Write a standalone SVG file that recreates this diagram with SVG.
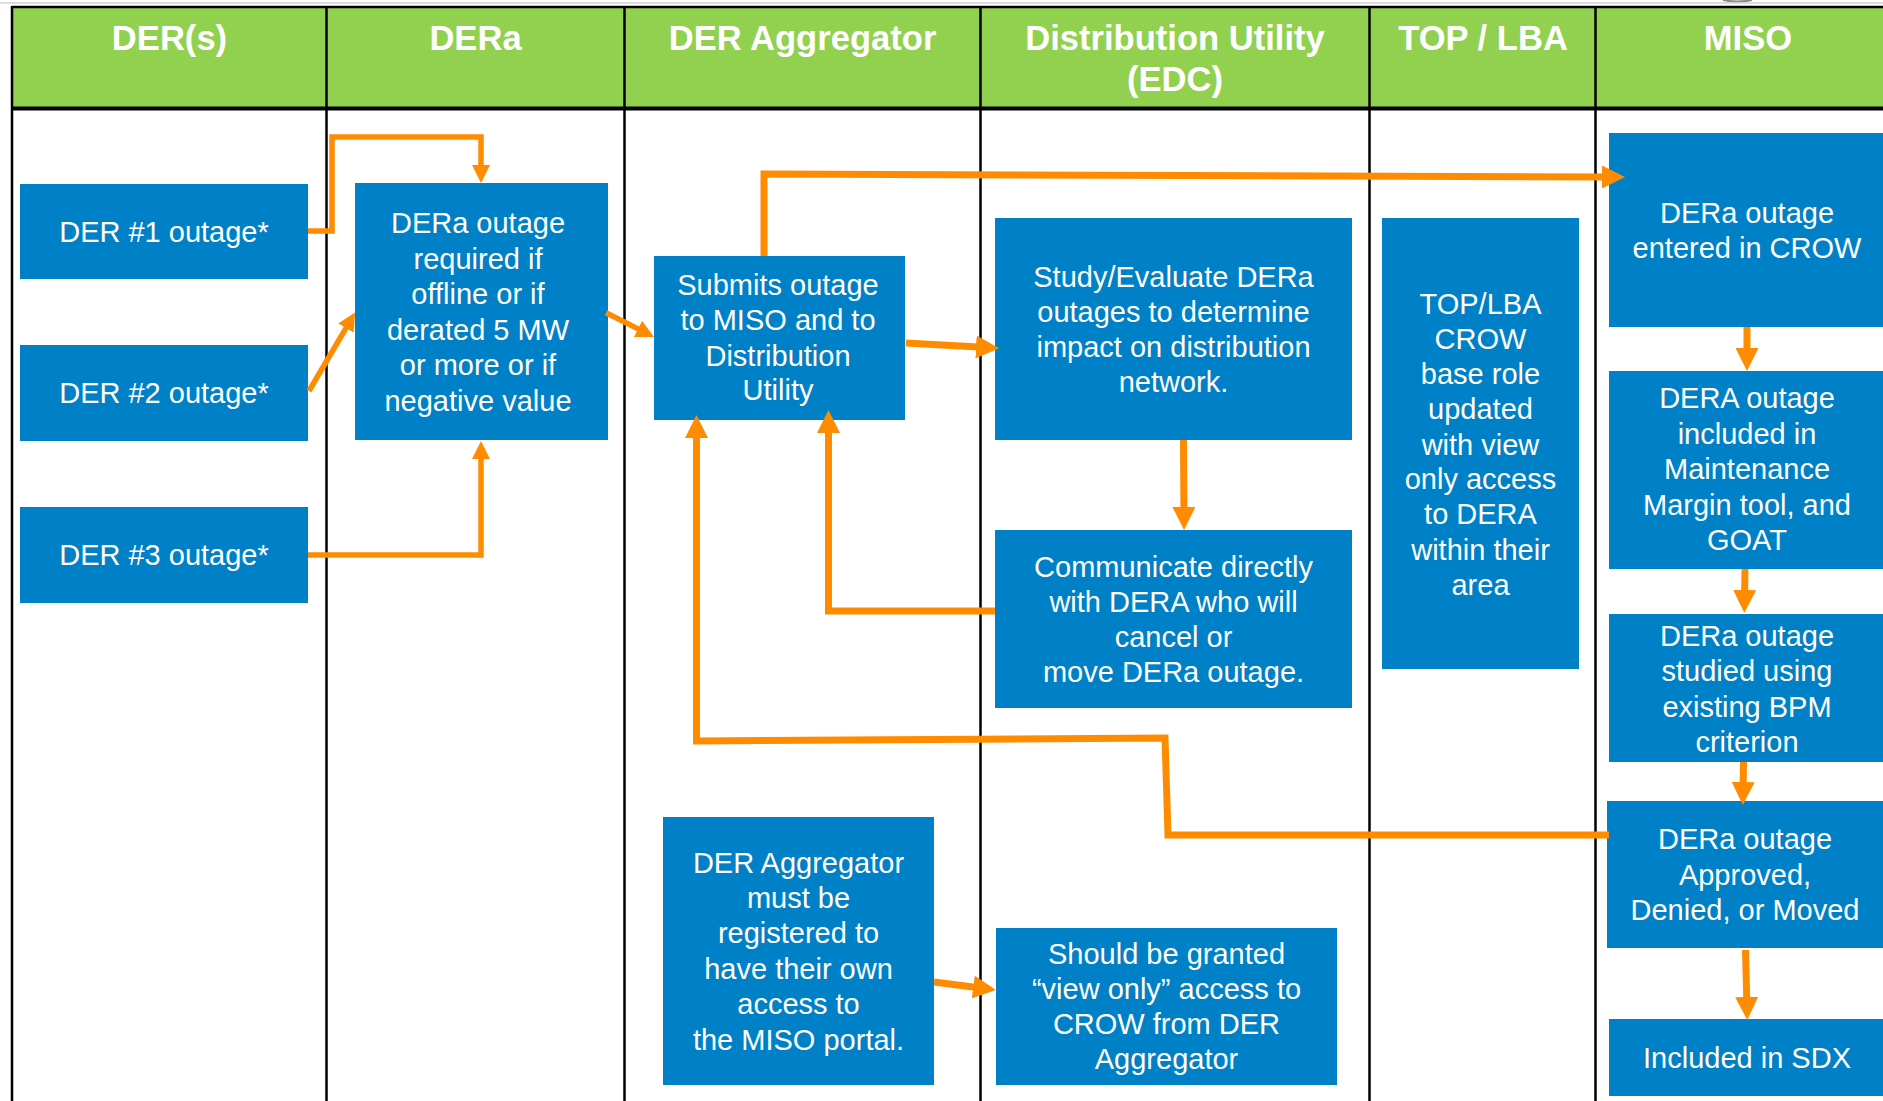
<svg xmlns="http://www.w3.org/2000/svg" width="1883" height="1101" viewBox="0 0 1883 1101">
<defs>
<style>
.hdr{font-family:"Liberation Sans",Arial,sans-serif;font-size:34.6px;font-weight:bold;fill:#ffffff;text-anchor:middle}
.box{fill:#0080C6}
.t{font-family:"Liberation Sans",Arial,sans-serif;font-size:29px;fill:#ffffff;text-anchor:middle}
.grid{stroke:#000000;stroke-width:2.5;fill:none}
.c{fill:none;stroke:#FF8C00;stroke-linejoin:miter}
.cs{stroke-width:5.5;marker-end:url(#ahS)}
.cb{stroke-width:7;marker-end:url(#ahB)}
</style>
<marker id="ahB" viewBox="0 0 10 10" markerUnits="userSpaceOnUse" markerWidth="23" markerHeight="23" refX="5" refY="5" orient="auto"><path d="M0,0 L10,5 L0,10 z" fill="#FF8C00"/></marker>
<marker id="ahS" viewBox="0 0 10 10" markerUnits="userSpaceOnUse" markerWidth="18" markerHeight="18" refX="5" refY="5" orient="auto"><path d="M0,0 L10,5 L0,10 z" fill="#FF8C00"/></marker>
</defs>
<rect x="0" y="0" width="1883" height="1101" fill="#ffffff"/>
<path d="M1723,0 Q1738,3 1752,0" stroke="#8a8a8a" stroke-width="2" fill="none"/>
<line x1="0" y1="3" x2="1883" y2="3" stroke="#d0d0d0" stroke-width="1.5"/>

<g id="header">
<rect x="12" y="7" width="1875" height="101" fill="#92D050"/>
<line x1="12" y1="7" x2="1883" y2="7" stroke="#000" stroke-width="2.5"/>
<line x1="12" y1="108.5" x2="1883" y2="108.5" stroke="#000" stroke-width="4"/>
<text class="hdr" x="169.5" y="50">DER(s)</text>
<text class="hdr" x="475.5" y="50">DERa</text>
<text class="hdr" x="802.5" y="50">DER Aggregator</text>
<text class="hdr" x="1175" y="50">Distribution Utility<tspan x="1175" y="91">(EDC)</tspan></text>
<text class="hdr" x="1483" y="50">TOP / LBA</text>
<text class="hdr" x="1748" y="50">MISO</text>
</g>

<g id="lanes" class="grid">
<line x1="12" y1="6" x2="12" y2="1101"/>
<line x1="326.5" y1="6" x2="326.5" y2="1101"/>
<line x1="624.5" y1="6" x2="624.5" y2="1101"/>
<line x1="980.5" y1="6" x2="980.5" y2="1101"/>
<line x1="1369.5" y1="6" x2="1369.5" y2="1101"/>
<line x1="1595.5" y1="6" x2="1595.5" y2="1101"/>
</g>

<g id="der1"><rect class="box" x="20" y="184" width="288" height="95"/><text class="t" x="164" y="242">DER #1 outage*</text></g>
<g id="der2"><rect class="box" x="20" y="345" width="288" height="96"/><text class="t" x="164" y="403">DER #2 outage*</text></g>
<g id="der3"><rect class="box" x="20" y="507" width="288" height="96"/><text class="t" x="164" y="565">DER #3 outage*</text></g>

<g id="dera"><rect class="box" x="355" y="183" width="253" height="257"/>
<text class="t" x="478" y="233">DERa outage<tspan x="478" y="268.5">required if</tspan><tspan x="478" y="304">offline or if</tspan><tspan x="478" y="339.5">derated 5 MW</tspan><tspan x="478" y="375">or more or if</tspan><tspan x="478" y="410.5">negative value</tspan></text></g>

<g id="submits"><rect class="box" x="654" y="256" width="251" height="164"/>
<text class="t" x="778" y="295">Submits outage<tspan x="778" y="330">to MISO and to</tspan><tspan x="778" y="365.5">Distribution</tspan><tspan x="778" y="400">Utility</tspan></text></g>

<g id="aggreg"><rect class="box" x="663" y="817" width="271" height="268"/>
<text class="t" x="798.5" y="873">DER Aggregator<tspan x="798.5" y="908">must be</tspan><tspan x="798.5" y="943">registered to</tspan><tspan x="798.5" y="978.5">have their own</tspan><tspan x="798.5" y="1014">access to</tspan><tspan x="798.5" y="1049.5">the MISO portal.</tspan></text></g>

<g id="study"><rect class="box" x="995" y="218" width="357" height="222"/>
<text class="t" x="1173.5" y="287">Study/Evaluate DERa<tspan x="1173.5" y="322">outages to determine</tspan><tspan x="1173.5" y="357">impact on distribution</tspan><tspan x="1173.5" y="392">network.</tspan></text></g>

<g id="communicate"><rect class="box" x="995" y="530" width="357" height="178"/>
<text class="t" x="1173.5" y="577">Communicate directly<tspan x="1173.5" y="612">with DERA who will</tspan><tspan x="1173.5" y="646.5">cancel or</tspan><tspan x="1173.5" y="681.5">move DERa outage.</tspan></text></g>

<g id="granted"><rect class="box" x="996" y="928" width="341" height="157"/>
<text class="t" x="1166.5" y="963.5">Should be granted<tspan x="1166.5" y="998.5">“view only” access to</tspan><tspan x="1166.5" y="1034">CROW from DER</tspan><tspan x="1166.5" y="1068.5">Aggregator</tspan></text></g>

<g id="toplba"><rect class="box" x="1382" y="218" width="197" height="451"/>
<text class="t" x="1480.5" y="313.5">TOP/LBA<tspan x="1480.5" y="348.5">CROW</tspan><tspan x="1480.5" y="384">base role</tspan><tspan x="1480.5" y="419">updated</tspan><tspan x="1480.5" y="454.5">with view</tspan><tspan x="1480.5" y="489">only access</tspan><tspan x="1480.5" y="524">to DERA</tspan><tspan x="1480.5" y="560">within their</tspan><tspan x="1480.5" y="595">area</tspan></text></g>

<g id="miso1"><rect class="box" x="1609" y="133" width="276" height="194"/>
<text class="t" x="1747" y="223">DERa outage<tspan x="1747" y="258">entered in CROW</tspan></text></g>

<g id="miso2"><rect class="box" x="1609" y="371" width="276" height="198"/>
<text class="t" x="1747" y="408">DERA outage<tspan x="1747" y="443.5">included in</tspan><tspan x="1747" y="479">Maintenance</tspan><tspan x="1747" y="514.5">Margin tool, and</tspan><tspan x="1747" y="550">GOAT</tspan></text></g>

<g id="miso3"><rect class="box" x="1609" y="614" width="276" height="148"/>
<text class="t" x="1747" y="645.5">DERa outage<tspan x="1747" y="681">studied using</tspan><tspan x="1747" y="716.5">existing BPM</tspan><tspan x="1747" y="751.5">criterion</tspan></text></g>

<g id="miso4"><rect class="box" x="1607" y="801" width="276" height="147"/>
<text class="t" x="1745" y="848.5">DERa outage<tspan x="1745" y="884.5">Approved,</tspan><tspan x="1745" y="920">Denied, or Moved</tspan></text></g>

<g id="miso5"><rect class="box" x="1609" y="1019" width="276" height="77"/>
<text class="t" x="1747" y="1068">Included in SDX</text></g>

<g id="connectors" class="c">
<path class="cs" d="M308,231 H332 V137 H481 V174"/>
<path class="cs" d="M309,391 L350.5,320.3"/>
<path class="cs" d="M308,555 H481 V450"/>
<path class="cs" d="M606,312.7 L646,332.9"/>
<path class="cb" d="M764,256 V174 L1613.5,177"/>
<path class="cb" d="M906,343 L987.5,347.6"/>
<path class="cb" d="M1183.5,440 L1184,518.5"/>
<path class="cb" d="M995,611 H828.5 V421.5"/>
<path class="cb" d="M1609,835 H1168 L1165,738 L696.5,741 V426.5"/>
<path class="cb" d="M934,982 L984.6,988.5"/>
<path class="cb" d="M1747,327 L1747,359.5"/>
<path class="cb" d="M1745,569 L1744.5,601.5"/>
<path class="cb" d="M1743.5,762 L1743,793.5"/>
<path class="cb" d="M1745.5,950 L1747,1008.5"/>
</g>
</svg>
